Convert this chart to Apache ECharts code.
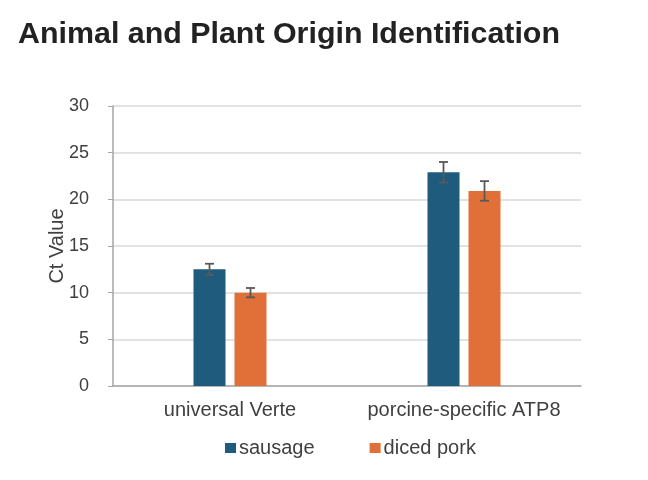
<!DOCTYPE html>
<html>
<head>
<meta charset="utf-8">
<script src="https://cdn.jsdelivr.net/npm/echarts@6/dist/echarts.min.js"></script>
<style>
  html, body { margin: 0; padding: 0; background: #fff; }
  #chart { width: 648px; height: 480px; }
</style>
</head>
<body>
<div id="chart"></div>
<script>
const categories = ["universal Verte", "porcine-specific ATP8"];
const seriesNames = ["sausage", "diced pork"];
const sausage = [12.5, 22.9];
const sausageErr = [0.6, 1.1];
const dicedPork = [10.0, 20.9];
const dicedPorkErr = [0.5, 1.05];
const colors = ["#1f5b7d", "#e07037"];

const BAR_W = 32;
const BAR_GAP = 9;

// error bars drawn as custom series, shifted onto their bar
function errorSeries(values, errs, offset) {
    return {
        type: "custom",
        silent: true,
        z: 10,
        data: values.map((v, i) => [i, v - errs[i], v + errs[i]]),
        renderItem: (params, api) => {
            const lo = api.coord([api.value(0), api.value(1)]);
            const hi = api.coord([api.value(0), api.value(2)]);
            const x = lo[0] + offset;
            const cap = 4.5;
            const style = {stroke: "#595959", lineWidth: 1.8};
            return {
                type: "group",
                children: [
                    {type: "line", shape: {x1: x, y1: lo[1], x2: x, y2: hi[1]}, style},
                    {type: "line", shape: {x1: x - cap, y1: hi[1], x2: x + cap, y2: hi[1]}, style},
                    {type: "line", shape: {x1: x - cap, y1: lo[1], x2: x + cap, y2: lo[1]}, style}
                ]
            };
        }
    };
}

const chart = echarts.init(document.getElementById("chart"));
const half = (BAR_W + BAR_GAP) / 2;

chart.setOption({
    animation: false,
    color: colors,
    textStyle: {fontFamily: "Liberation Sans, Arial, sans-serif"},
    title: {
        text: "Animal and Plant Origin Identification",
        left: 13,
        top: 15,
        textStyle: {fontSize: 30.4, fontWeight: "bold", color: "#222"}
    },
    legend: {
        data: seriesNames,
        top: 433,
        left: 220,
        icon: "rect",
        itemWidth: 11,
        itemHeight: 10,
        itemGap: 55,
        textStyle: {fontSize: 20, color: "#404040", padding: [0, 0, 0, -2]}
    },
    grid: {left: 113, right: 67, top: 106, bottom: 94, containLabel: false},
    xAxis: {
        type: "category",
        data: categories,
        axisLine: {lineStyle: {color: "#a6a6a6", width: 1.5}},
        axisTick: {show: false},
        axisLabel: {interval: 0, fontSize: 20, color: "#404040", margin: 14}
    },
    yAxis: {
        type: "value",
        min: 0,
        max: 30,
        interval: 5,
        name: "Ct Value",
        nameLocation: "middle",
        nameGap: 46,
        nameMoveOverlap: false,
        nameTextStyle: {fontSize: 20, color: "#404040"},
        axisLine: {show: true, lineStyle: {color: "#a6a6a6", width: 1.5}},
        axisTick: {show: true, length: 5, lineStyle: {color: "#a6a6a6"}},
        axisLabel: {fontSize: 18, color: "#404040", margin: 24},
        splitLine: {lineStyle: {color: "#d9d9d9", width: 1.5}}
    },
    series: [
        {name: seriesNames[0], type: "bar", data: sausage, barWidth: BAR_W, barGap: (BAR_GAP / BAR_W * 100) + "%"},
        {name: seriesNames[1], type: "bar", data: dicedPork, barWidth: BAR_W},
        errorSeries(sausage, sausageErr, -half),
        errorSeries(dicedPork, dicedPorkErr, half)
    ]
});
</script>
</body>
</html>
